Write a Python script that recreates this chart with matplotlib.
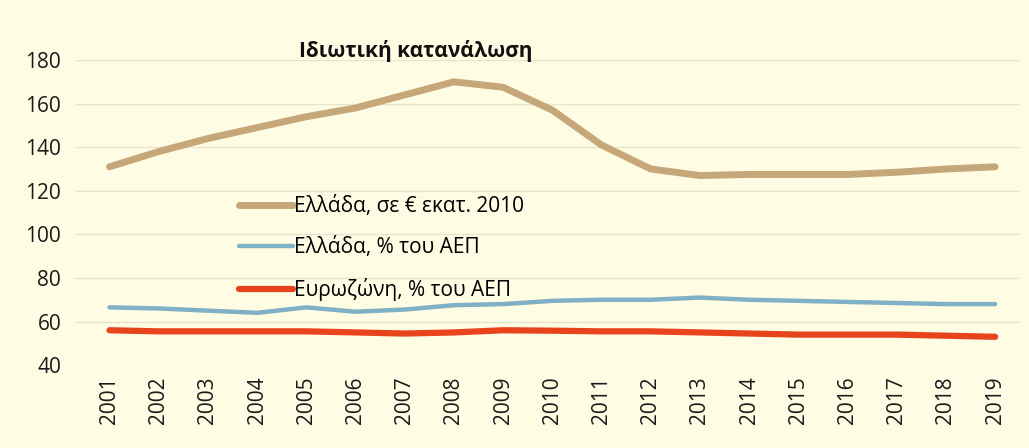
import matplotlib.pyplot as plt

plt.rcParams['font.family'] = ['Open Sans', 'DejaVu Sans']

years = list(range(2001, 2020))
greece_eur = [131, 138, 144, 149, 154, 158, 164, 170, 167.5, 157, 141, 130,
              127, 127.5, 127.5, 127.5, 128.5, 130, 131]
greece_gdp = [66.5, 66, 65, 64, 66.5, 64.5, 65.5, 67.5, 68, 69.5, 70, 70,
              71, 70, 69.5, 69, 68.5, 68, 68]
euro_gdp = [56, 55.5, 55.5, 55.5, 55.5, 55, 54.5, 55, 56, 55.8, 55.5, 55.5,
            55, 54.5, 54, 54, 54, 53.5, 53]
labels = ['Ελλάδα, σε € εκατ. 2010', 'Ελλάδα, % του ΑΕΠ', 'Ευρωζώνη, % του ΑΕΠ']
yticks = [40, 60, 80, 100, 120, 140, 160, 180]

bg = '#FFFCE4'
fig = plt.figure(figsize=(10.29, 4.48), dpi=100, facecolor=bg)
ax = fig.add_axes([0.073, 0.185, 0.918, 0.681], facecolor=bg)

ax.plot(years, greece_eur, color='#C6A77A', lw=5, label=labels[0], solid_capstyle='round')
ax.plot(years, greece_gdp, color='#80B0C4', lw=3.2, label=labels[1], solid_capstyle='round')
ax.plot(years, euro_gdp, color='#E8441C', lw=4.5, label=labels[2], solid_capstyle='round')

ax.set_ylim(40, 180)
ax.set_xlim(2000.3, 2019.5)
ax.set_yticks(yticks)
ax.set_xticks(years)
ax.set_xticklabels([str(y) for y in years], rotation=90)
ax.tick_params(axis='both', length=0, labelsize=15, colors='#1a1a1a')
ax.tick_params(axis='y', pad=10)
ax.tick_params(axis='x', pad=8)
ax.grid(axis='y', color='#EAE4CC', lw=1)
ax.set_axisbelow(True)
for s in ax.spines.values():
    s.set_visible(False)

fig.text(0.404, 0.887, 'Ιδιωτική κατανάλωση', fontsize=15, fontweight='bold',
         ha='center', va='center', color='#111111')

ax.legend(loc='upper left', bbox_to_anchor=(0.232, 0.562), bbox_transform=fig.transFigure,
          frameon=False, fontsize=15, handlelength=2.6, handletextpad=0.05,
          labelspacing=0.95, borderaxespad=0, borderpad=0)

fig.savefig('out.png', dpi=100, facecolor=bg)
